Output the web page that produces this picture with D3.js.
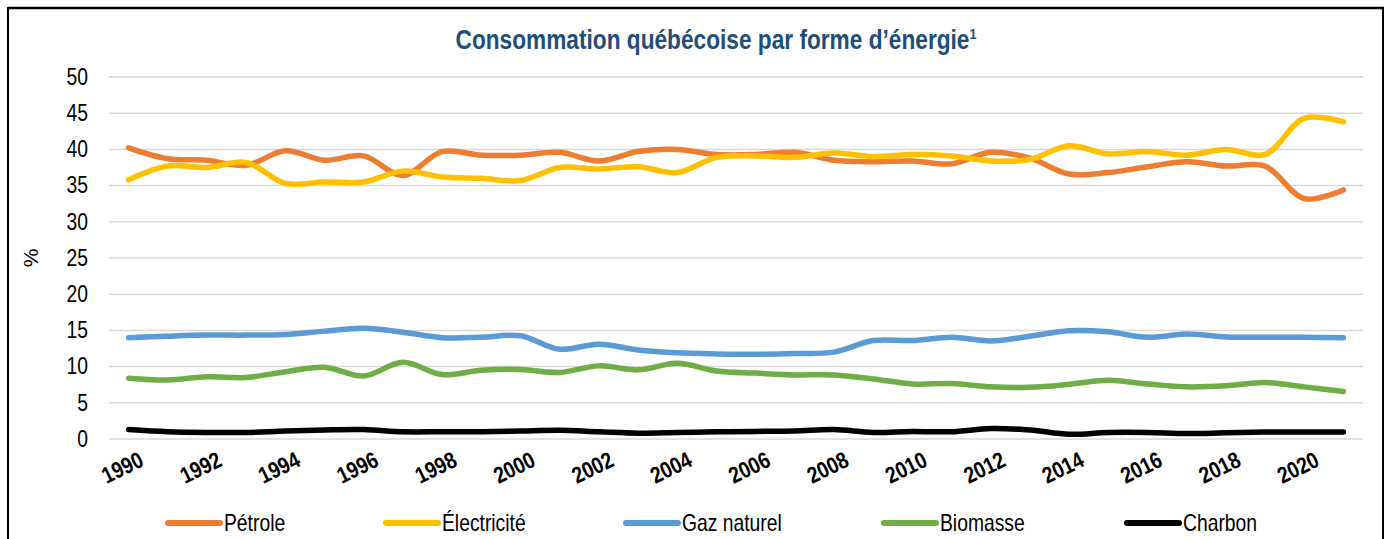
<!DOCTYPE html>
<html>
<head>
<meta charset="utf-8">
<script src="https://cdn.jsdelivr.net/npm/d3@7"></script>
<style>
  html, body { margin: 0; padding: 0; background: #fff; }
  svg { display: block; }
  text { font-family: "Liberation Sans", Arial, sans-serif; }
</style>
</head>
<body>
<svg id="chart" width="1388" height="539"></svg>
<script>
const years = d3.range(1990, 2022);
const tickLabels = ["1990","1992","1994","1996","1998","2000","2002","2004","2006","2008","2010","2012","2014","2016","2018","2020"];
const yTicks = [0,5,10,15,20,25,30,35,40,45,50];

const petrole = [40.2,38.7,38.5,37.8,39.8,38.5,39.1,36.4,39.7,39.2,39.2,39.6,38.4,39.7,40.0,39.3,39.3,39.6,38.5,38.3,38.4,38.0,39.6,38.8,36.6,36.8,37.6,38.3,37.7,37.7,33.2,34.4];
const electricite = [35.8,37.7,37.5,38.2,35.3,35.5,35.5,37.0,36.2,36.0,35.7,37.5,37.3,37.6,36.8,38.9,39.1,38.9,39.5,39.0,39.3,39.1,38.4,38.6,40.5,39.4,39.7,39.2,40.0,39.3,44.3,43.8];
const gazNaturel = [14.0,14.2,14.35,14.35,14.45,14.9,15.3,14.75,14.0,14.05,14.25,12.4,13.1,12.3,11.9,11.75,11.7,11.8,12.0,13.6,13.6,14.05,13.55,14.2,14.95,14.8,14.05,14.5,14.1,14.05,14.05,14.0];
const biomasse = [8.4,8.15,8.6,8.5,9.3,9.9,8.7,10.6,8.9,9.5,9.6,9.2,10.1,9.55,10.45,9.4,9.1,8.85,8.85,8.3,7.6,7.65,7.2,7.15,7.55,8.1,7.6,7.2,7.35,7.8,7.2,6.55];
const charbon = [1.3,1.0,0.9,0.9,1.1,1.25,1.3,1.0,1.0,1.0,1.1,1.2,1.0,0.8,0.9,1.0,1.05,1.1,1.3,0.9,1.05,1.0,1.45,1.25,0.65,0.9,0.9,0.75,0.85,0.95,0.95,0.95];

const seriesNames = ["Pétrole","Électricité","Gaz naturel","Biomasse","Charbon"];
const seriesColors = ["#ED7D31","#FFC000","#5B9BD5","#70AD47","#000000"];
const seriesValues = [petrole, electricite, gazNaturel, biomasse, charbon];

const NARROW = 0.84;
const svg = d3.select("#chart");

// frame
svg.append("line").attr("x1",8).attr("x2",1384).attr("y1",8).attr("y2",8).attr("stroke","#000").attr("stroke-width",2.5);
svg.append("line").attr("x1",8).attr("x2",8).attr("y1",7).attr("y2",539).attr("stroke","#000").attr("stroke-width",2);
svg.append("line").attr("x1",1383).attr("x2",1383).attr("y1",7).attr("y2",539).attr("stroke","#000").attr("stroke-width",2);

// title
const title = svg.append("text").attr("transform",`translate(716,49) scale(${NARROW},1)`).attr("text-anchor","middle")
  .attr("fill","#1F4E79").attr("font-weight","bold").attr("font-size",27);
title.append("tspan").text("Consommation québécoise par forme d’énergie");
title.append("tspan").attr("font-size",15).attr("dy",-10).text("1");

const x = d3.scaleBand().domain(years).range([109,1363]);
const y = d3.scaleLinear().domain([0,50]).range([439,77]);
const cx = d => x(d) + x.bandwidth()/2;

// gridlines
svg.append("g").selectAll("line").data(yTicks).join("line")
  .attr("x1",109).attr("x2",1363)
  .attr("y1",d=>y(d)).attr("y2",d=>y(d))
  .attr("stroke","#D9D9D9").attr("stroke-width",1.5);

// y axis labels
const yAxis = d3.axisLeft(y).tickValues(yTicks).tickSize(0).tickPadding(0);
const gy = svg.append("g").attr("transform","translate(88,0)").call(yAxis);
gy.select(".domain").remove();
gy.selectAll("text").attr("font-size",23).attr("fill","#000")
  .attr("font-family",'"Liberation Sans",Arial,sans-serif')
  .attr("transform",`scale(${NARROW},1)`);

svg.append("text").attr("transform","translate(38,258) rotate(-90)")
  .attr("text-anchor","middle").attr("font-size",21).attr("fill","#000").text("%");

// x axis labels
const xAxis = d3.axisBottom(x).tickValues(tickLabels.map(Number)).tickSize(0).tickPadding(0);
const gx = svg.append("g").call(xAxis);
gx.select(".domain").remove();
gx.selectAll(".tick").attr("transform", d => `translate(${cx(d)},0)`);
gx.selectAll("text")
  .attr("transform",`translate(13,458) rotate(-26) scale(${NARROW},1)`)
  .attr("x",0).attr("y",0).attr("dy","0.35em")
  .attr("text-anchor","end").attr("font-size",23).attr("font-weight","bold").attr("fill","#000")
  .attr("font-family",'"Liberation Sans",Arial,sans-serif');

// lines
const line = d3.line().x((d,i)=>cx(years[i])).y(d=>y(d)).curve(d3.curveCatmullRom.alpha(0.5));
seriesValues.forEach((vals,k)=>{
  svg.append("path").datum(vals).attr("d",line)
    .attr("fill","none").attr("stroke",seriesColors[k]).attr("stroke-width",5.5)
    .attr("stroke-linecap","round").attr("stroke-linejoin","round");
});

// legend
const legendX = [168,386,626,884,1127];
const lg = svg.append("g").selectAll("g").data(seriesNames).join("g")
  .attr("transform",(d,i)=>`translate(${legendX[i]},523)`);
lg.append("line").attr("x1",0).attr("x2",52).attr("y1",0).attr("y2",0)
  .attr("stroke",(d,i)=>seriesColors[i]).attr("stroke-width",6).attr("stroke-linecap","round");
lg.append("text").attr("transform",`translate(56,0) scale(${NARROW},1)`).attr("dy","0.35em")
  .attr("font-size",23).attr("fill","#000").text(d=>d);
</script>
</body>
</html>
